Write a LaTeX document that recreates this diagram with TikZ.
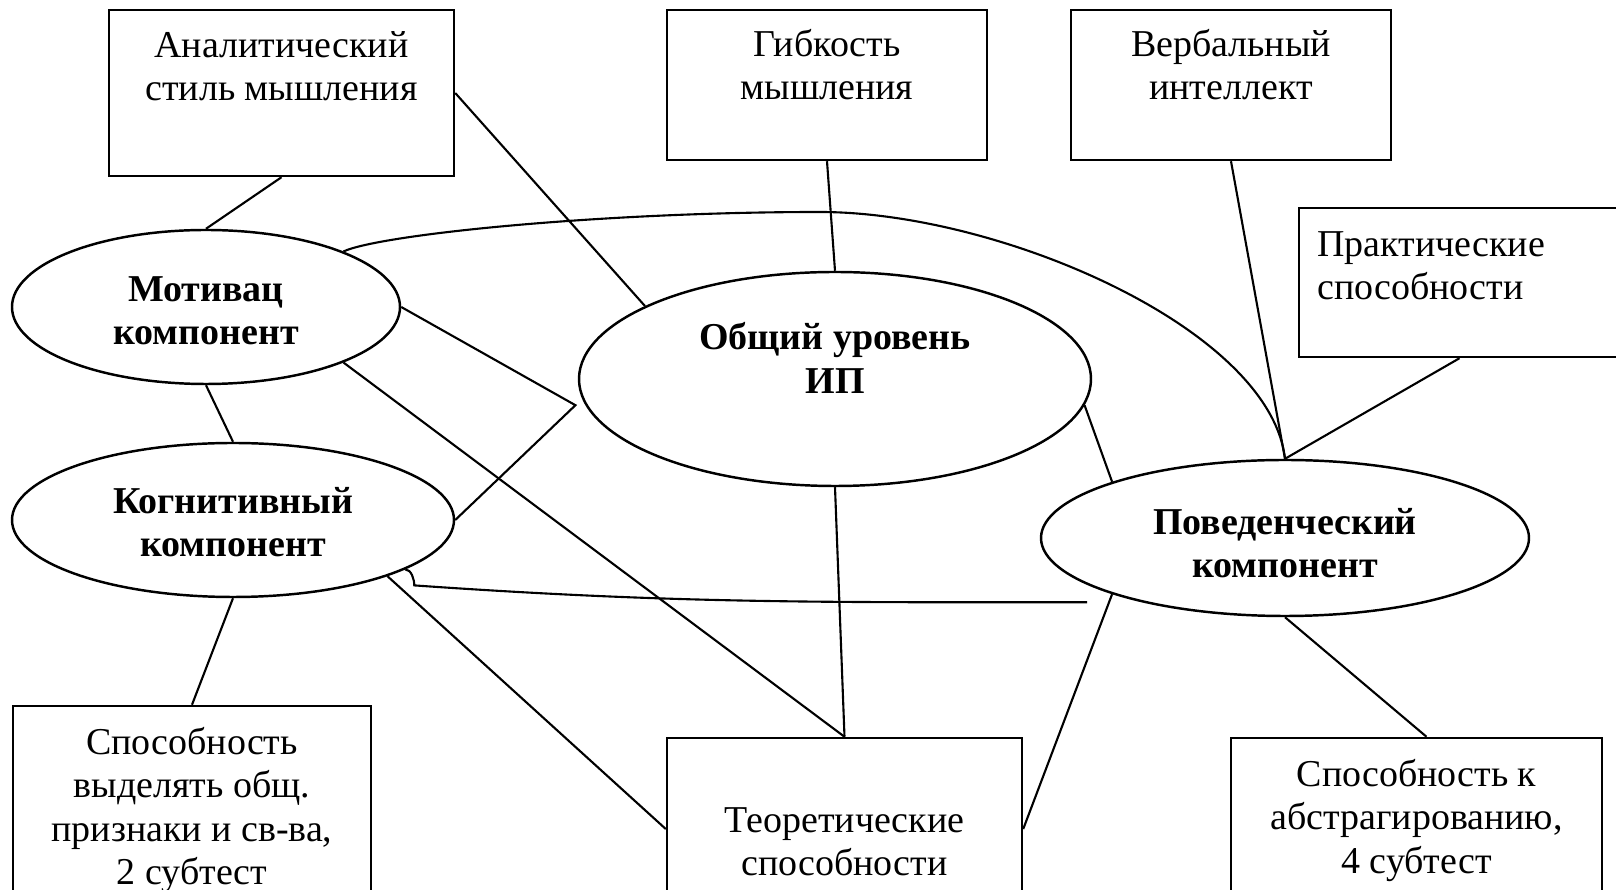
\documentclass[tikz,border=0pt]{standalone}
\usepackage{fontspec}
\setmainfont{Liberation Serif}
\usetikzlibrary{positioning,shapes.geometric}
\tikzset{
	%Diagram styles
	box/.style={
		draw,
		rectangle,
		line width=0.7pt,
		inner sep=0pt,
	},
	boxText/.style={
		inner sep=0pt,
		align=center,
		font=\fontsize{10.8}{12.3}\selectfont,
	},
	oval/.style={ % requires library shapes.geometric
		draw,
		ellipse,
		line width=0.7pt,
		inner sep=0pt,
	},
	ovalText/.style={
		inner sep=0pt,
		align=center,
		font=\fontsize{10.8}{12.3}\selectfont\bfseries,
	},
	link/.style={
		line width=0.6pt,
	},
}

\begin{document}
\begin{tikzpicture}
	\useasboundingbox (0,0) rectangle (16.16,-8.9);
	\clip (0,0) rectangle (16.16,-8.9);

	\node(analyticStyle) at (2.815,-0.93) [box, minimum width=3.45cm, minimum height=1.66cm] {};
	\node[boxText, below=2.2mm of analyticStyle.north] (analyticStyleText) {Аналитический\\стиль мышления};
	\node(flexibility) at (8.27,-0.85) [box, minimum width=3.2cm, minimum height=1.5cm] {};
	\node[boxText, below=2.0mm of flexibility.north] (flexibilityText) {Гибкость\\мышления};
	\node(verbalIntel) at (12.31,-0.85) [box, minimum width=3.2cm, minimum height=1.5cm] {};
	\node[boxText, below=2.0mm of verbalIntel.north] (verbalIntelText) {Вербальный\\интеллект};
	\node(practical) at (14.695,-2.825) [box, minimum width=3.41cm, minimum height=1.49cm] {};
	\node[boxText, align=left, below right=2.4mm and 1.9mm of practical.north west] (practicalText) {Практические\\способности};

	\node(motivComp) at (2.06,-3.07) [oval, minimum width=3.88cm, minimum height=1.54cm] {};
	\node[ovalText] at ([yshift=-0.4mm]motivComp) (motivCompText) {Мотивац\\компонент};
	\node(cognitComp) at (2.33,-5.2) [oval, minimum width=4.42cm, minimum height=1.54cm] {};
	\node[ovalText] at ([yshift=-0.2mm]cognitComp) (cognitCompText) {Когнитивный\\компонент};
	\node(generalLevel) at (8.35,-3.79) [oval, minimum width=5.12cm, minimum height=2.14cm] {};
	\node[ovalText] at ([yshift=2.1mm]generalLevel) (generalLevelText) {Общий уровень\\ИП};
	\node(behavComp) at (12.85,-5.38) [oval, minimum width=4.88cm, minimum height=1.56cm] {};
	\node[ovalText] at ([yshift=-0.5mm]behavComp) (behavCompText) {Поведенческий\\компонент};

	\node(commonFeatures) at (1.92,-8.13) [box, minimum width=3.58cm, minimum height=2.14cm] {};
	\node[boxText, below=2.2mm of commonFeatures.north] (commonFeaturesText) {Способность\\выделять общ.\\признаки и св-ва,\\2 субтест};
	\node(theoretical) at (8.445,-8.29) [box, minimum width=3.55cm, minimum height=1.82cm] {};
	\node[boxText, below=7.0mm of theoretical.north] (theoreticalText) {Теоретические\\способности};
	\node(abstraction) at (14.165,-8.29) [box, minimum width=3.71cm, minimum height=1.82cm] {};
	\node[boxText, below=2.2mm of abstraction.north] (abstractionText) {Способность к\\абстрагированию,\\4 субтест};

	\draw[link] (analyticStyle.south) -- (motivComp.north);
	\draw[link] (analyticStyle.east) -- (generalLevel.159);
	\draw[link] (flexibility.south) -- (generalLevel.north);
	\draw[link] (verbalIntel.south) -- (behavComp.north);
	\draw[link] ([xshift=-1mm]practical.south) -- (behavComp.north);
	\draw[link] (motivComp.22) .. controls +(0.37,0.17) and (6.0,-2.12) .. (8.2,-2.12)
		.. controls (10.0,-2.12) and +(-0.15,1.30) .. (behavComp.north);
	\draw[link] (motivComp.east) -- ([xshift=-1mm]generalLevel.186) -- (cognitComp.east);
	\draw[link] (motivComp.-22) -- (theoretical.north);
	\draw[link] (motivComp.south) -- (cognitComp.north);
	\draw[link] (cognitComp.south) -- (commonFeatures.north);
	\draw[link] (cognitComp.-20) -- (theoretical.west);
	\draw[link] (cognitComp.-16) .. controls +(0.06,0) and +(0,0.06) .. ++(0.09,-0.16) to[out=-4, in=180] ([shift={(-3.5mm,-0.5mm)}]behavComp.200);
	\draw[link] (generalLevel.south) -- (theoretical.north);
	\draw[link] (generalLevel.-6) -- (behavComp.162);
	\draw[link] (behavComp.198) -- (theoretical.east);
	\draw[link] (behavComp.south) -- ([xshift=1mm]abstraction.north);
\end{tikzpicture}
\end{document}
